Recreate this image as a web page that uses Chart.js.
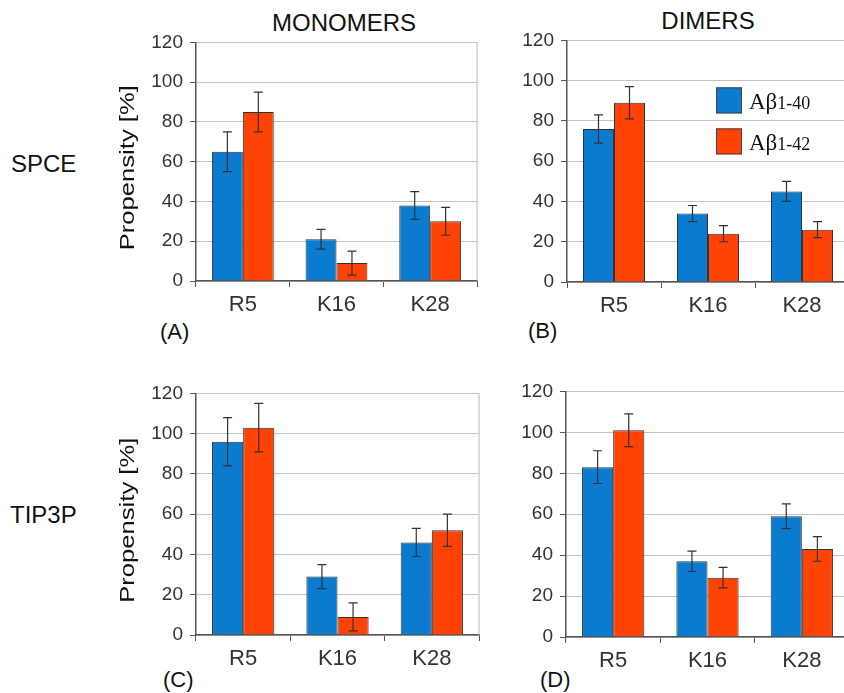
<!DOCTYPE html>
<html>
<head>
<meta charset="utf-8">
<script src="https://cdn.jsdelivr.net/npm/chart.js@4.4.0/dist/chart.umd.min.js"></script>
<style>
  html, body { margin: 0; padding: 0; background: #fff; overflow: hidden; width: 844px; height: 693px; }
  body { position: relative; font-family: 'Liberation Sans', Arial, sans-serif; }
  canvas { position: absolute; }
  .lbl { position: absolute; color: #111; line-height: 1; white-space: nowrap; }
  .mid { transform: translate(-50%, -50%); }
  .vmid { transform: translateY(-50%); }
</style>
</head>
<body>
<div class="lbl mid" style="left:344px;top:23px;font-size:24px">MONOMERS</div>
<div class="lbl mid" style="left:708px;top:21px;font-size:24px">DIMERS</div>
<div class="lbl vmid" style="left:11px;top:164px;font-size:24px">SPCE</div>
<div class="lbl vmid" style="left:10px;top:515px;font-size:24px">TIP3P</div>
<div class="lbl vmid" style="left:160px;top:332px;font-size:22px">(A)</div>
<div class="lbl vmid" style="left:528px;top:331px;font-size:22px">(B)</div>
<div class="lbl vmid" style="left:163px;top:680px;font-size:22px">(C)</div>
<div class="lbl vmid" style="left:540px;top:680px;font-size:22px">(D)</div>

<canvas id="chartA" width="385" height="296" style="left:100px;top:24px"></canvas>
<canvas id="chartB" width="350" height="298" style="left:510px;top:22px"></canvas>
<canvas id="chartC" width="385" height="295" style="left:100px;top:375px"></canvas>
<canvas id="chartD" width="350" height="297" style="left:510px;top:373px"></canvas>

<script>
// data
const categories = ['R5', 'K16', 'K28'];
const seriesNames = ['Aβ|1-40', 'Aβ|1-42'];
const yTicks = [0, 20, 40, 60, 80, 100, 120];

// SPCE, monomers (A)
const monoSpce40 = [65, 21, 38];
const monoSpce40Err = [10, 5, 7];
const monoSpce42 = [85, 9, 30];
const monoSpce42Err = [10, 6, 7];
// SPCE, dimers (B)
const dimSpce40 = [76, 34, 45];
const dimSpce40Err = [7, 4, 5];
const dimSpce42 = [89, 24, 26];
const dimSpce42Err = [8, 4, 4];
// TIP3P, monomers (C)
const monoTip40 = [96, 29, 46];
const monoTip40Err = [12, 6, 7];
const monoTip42 = [103, 9, 52];
const monoTip42Err = [12, 7, 8];
// TIP3P, dimers (D)
const dimTip40 = [83, 37, 59];
const dimTip40Err = [8, 5, 6];
const dimTip42 = [101, 29, 43];
const dimTip42Err = [8, 5, 6];

const BLUE = '#0a7bcf';
const ORANGE = '#ff4206';

Chart.defaults.font.family = "'Liberation Sans', Arial, sans-serif";
Chart.defaults.color = '#333';

// error bars drawn from the dataset values
const errorBars = {
  id: 'errorBars',
  afterDatasetsDraw(chart) {
    const ctx = chart.ctx;
    const y = chart.scales.y;
    const area = chart.chartArea;
    ctx.save();
    // right frame line
    ctx.strokeStyle = '#b8b8b8';
    ctx.lineWidth = 1;
    ctx.beginPath();
    ctx.moveTo(area.right, area.top);
    ctx.lineTo(area.right, area.bottom);
    ctx.stroke();

    ctx.strokeStyle = '#333';
    ctx.lineWidth = 1.2;
    chart.data.datasets.forEach((ds, di) => {
      chart.getDatasetMeta(di).data.forEach((bar, i) => {
        const v = ds.data[i], e = ds.errors[i];
        const top = y.getPixelForValue(v + e);
        const bot = y.getPixelForValue(v - e);
        ctx.beginPath();
        ctx.moveTo(bar.x, top); ctx.lineTo(bar.x, bot);
        ctx.moveTo(bar.x - 4.5, top); ctx.lineTo(bar.x + 4.5, top);
        ctx.moveTo(bar.x - 4.5, bot); ctx.lineTo(bar.x + 4.5, bot);
        ctx.stroke();
      });
    });
    ctx.restore();
  }
};

// y title, stretched along its length like the original
const yTitle = {
  id: 'yTitle',
  afterDraw(chart) {
    const o = chart.options.plugins.yTitle;
    if (!o.show) return;
    const ctx = chart.ctx;
    const a = chart.chartArea;
    ctx.save();
    ctx.translate(28, (a.top + a.bottom) / 2 + 6);
    ctx.rotate(-Math.PI / 2);
    ctx.scale(1.28, 1);
    ctx.font = "20px 'Liberation Sans', Arial, sans-serif";
    ctx.fillStyle = '#111';
    ctx.textAlign = 'center';
    ctx.textBaseline = 'middle';
    ctx.fillText('Propensity [%]', 0, 0);
    ctx.restore();
  }
};

// legend with subscripts (panel B only)
const subLegend = {
  id: 'subLegend',
  afterDraw(chart) {
    if (!chart.options.plugins.subLegend.show) return;
    const ctx = chart.ctx;
    const a = chart.chartArea;
    ctx.save();
    chart.data.datasets.forEach((ds, i) => {
      const bx = a.left + 149, by = a.top + 47 + i * 41;
      ctx.fillStyle = ds.backgroundColor;
      ctx.fillRect(bx, by, 26, 26);
      ctx.strokeStyle = '#444';
      ctx.lineWidth = 1;
      ctx.strokeRect(bx + 0.5, by + 0.5, 25, 25);
      const parts = seriesNames[i].split('|');
      ctx.fillStyle = '#111';
      ctx.textBaseline = 'alphabetic';
      ctx.font = "23px 'Liberation Serif', 'DejaVu Serif', serif";
      ctx.fillText(parts[0], bx + 33, by + 22);
      const w = ctx.measureText(parts[0]).width;
      ctx.font = "18px 'Liberation Serif', 'DejaVu Serif', serif";
      ctx.fillText(parts[1], bx + 33 + w, by + 22);
    });
    ctx.restore();
  }
};

function makeChart(id, d40, e40, d42, e42, lay) {
  return new Chart(document.getElementById(id), {
    type: 'bar',
    data: {
      labels: categories,
      datasets: [
        { data: d40, errors: e40, backgroundColor: BLUE, borderColor: '#333', borderWidth: 1 },
        { data: d42, errors: e42, backgroundColor: ORANGE, borderColor: '#333', borderWidth: 1 }
      ]
    },
    options: {
      responsive: false,
      animation: false,
      categoryPercentage: 0.66,
      barPercentage: 1,
      layout: { padding: { top: 0, right: lay.right, bottom: 0, left: 0 } },
      plugins: {
        legend: { display: false },
        tooltip: { enabled: false },
        subLegend: { show: !!lay.legend },
        yTitle: { show: !!lay.title }
      },
      scales: {
        x: {
          grid: { drawOnChartArea: false, drawTicks: true, tickLength: 6, tickColor: '#555' },
          border: { color: '#555', width: 1.5 },
          ticks: { font: { size: 22 }, color: '#333', padding: 5 },
          afterFit: (s) => { s.height = lay.xh; }
        },
        y: {
          min: 0,
          max: 120,
          afterBuildTicks: (s) => { s.ticks = yTicks.map(v => ({ value: v })); },
          grid: { color: '#c4c4c4', tickLength: 6, tickColor: '#555' },
          border: { color: '#555', width: 1.5 },
          ticks: { font: { size: 19 }, color: '#333', padding: 7 },
          afterFit: (s) => { s.width = lay.yw; }
        }
      }
    },
    plugins: [errorBars, subLegend, yTitle]
  });
}

makeChart('chartA', monoSpce40, monoSpce40Err, monoSpce42, monoSpce42Err,
  { right: 8, xh: 39, yw: 96, title: true });
makeChart('chartB', dimSpce40, dimSpce40Err, dimSpce42, dimSpce42Err,
  { right: 11, xh: 38, yw: 57, legend: true });
makeChart('chartC', monoTip40, monoTip40Err, monoTip42, monoTip42Err,
  { right: 6, xh: 35, yw: 96, title: true });
makeChart('chartD', dimTip40, dimTip40Err, dimTip42, dimTip42Err,
  { right: 11, xh: 33, yw: 56 });
</script>
</body>
</html>
